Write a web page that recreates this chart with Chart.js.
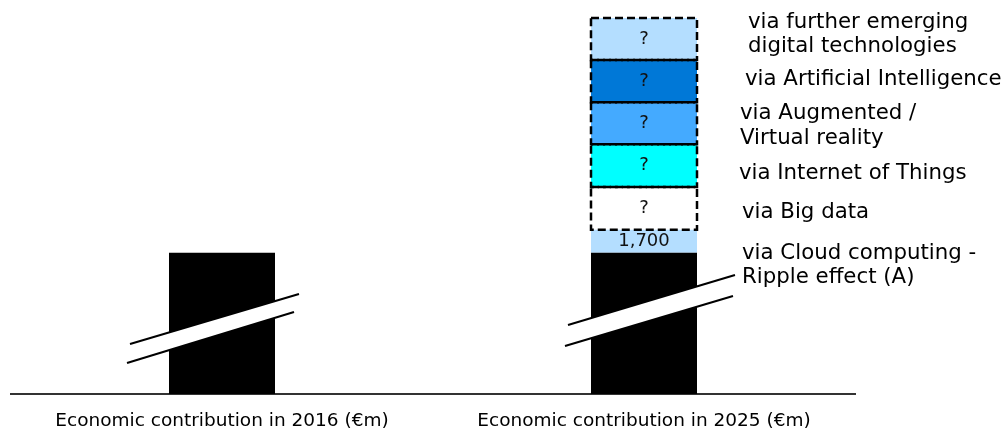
<!DOCTYPE html>
<html><head><meta charset="utf-8">
<script src="https://cdn.jsdelivr.net/npm/chart.js@4.4.0/dist/chart.umd.min.js"></script>
<style>html,body{margin:0;padding:0;background:#fff;}#wrap{width:1005px;height:430px;}</style>
</head><body><div id="wrap"><canvas id="c" width="1005" height="430"></canvas></div>
<script>
// ---- data (€m) ----
const categories = ['Economic contribution in 2016 (€m)', 'Economic contribution in 2025 (€m)'];
const seriesNames = ['Base', 'via Cloud computing - Ripple effect (A)', 'via Big data', 'via Internet of Things', 'via Augmented / Virtual reality', 'via Artificial Intelligence', 'via further emerging digital technologies'];
// base bar is drawn on a broken axis; unknown segments ("?") are drawn as equal placeholders
const baseValues = [10400, 10400];
const cloudValues = [null, 1700];
const bigDataValues = [null, 3150];
const iotValues = [null, 3150];
const arvrValues = [null, 3100];
const aiValues = [null, 3100];
const furtherValues = [null, 3100];
const segmentTexts = ['', '1,700', '?', '?', '?', '?', '?'];
const labelLines = [[], ['via Cloud computing -', 'Ripple effect (A)'], ['via Big data'], ['via Internet of Things'], ['via Augmented /', 'Virtual reality'], ['via Artificial Intelligence'], ['via further emerging', 'digital technologies']];

const colors = ['#000000', '#b4deff', '#ffffff', '#00ffff', '#44aaff', '#0078d7', '#b4deff'];
const dashed = [false, false, true, true, true, true, true];
const allValues = [baseValues, cloudValues, bigDataValues, iotValues, arvrValues, aiValues, furtherValues];
const yMax = allValues.reduce((s, arr) => s + (arr[1] || 0), 0);

// label placement tweaks (relative to bar edge / segment centre)
const labelDx = [0, 45, 45, 42, 43, 48, 51];
const labelDy = [0, 24, 4, 8, 3, -2, -4.5];
// break-mark geometry relative to bar centre / baseline
const breakMarks = [
  {up: [[-92, -50], [77, -100]], lo: [[-95, -31], [72, -82]]},
  {up: [[-76, -69], [91, -119]], lo: [[-79, -48], [89, -98]]}
];

const decorPlugin = {
  id: 'decor',
  afterDatasetsDraw(chart) {
    const ctx = chart.ctx;
    ctx.save();
    // break marks
    const baseMeta = chart.getDatasetMeta(0);
    baseMeta.data.forEach((el, i) => {
      const b = breakMarks[i];
      const cx = el.x, by = el.base;
      const P = p => [cx + p[0], by + p[1]];
      const u0 = P(b.up[0]), u1 = P(b.up[1]), l0 = P(b.lo[0]), l1 = P(b.lo[1]);
      ctx.fillStyle = '#fff';
      ctx.beginPath();
      ctx.moveTo(u0[0], u0[1]); ctx.lineTo(u1[0], u1[1]); ctx.lineTo(l1[0], l1[1]); ctx.lineTo(l0[0], l0[1]);
      ctx.closePath(); ctx.fill();
      ctx.strokeStyle = '#000'; ctx.lineWidth = 2; ctx.setLineDash([]);
      ctx.beginPath(); ctx.moveTo(u0[0], u0[1]); ctx.lineTo(u1[0], u1[1]); ctx.stroke();
      ctx.beginPath(); ctx.moveTo(l0[0], l0[1]); ctx.lineTo(l1[0], l1[1]); ctx.stroke();
    });
    // dashed borders, segment texts, side labels
    chart.data.datasets.forEach((ds, di) => {
      const meta = chart.getDatasetMeta(di);
      meta.data.forEach((el, i) => {
        if (ds.data[i] == null) return;
        const left = el.x - el.width / 2, right = el.x + el.width / 2;
        const top = Math.min(el.y, el.base), bot = Math.max(el.y, el.base);
        if (dashed[di]) {
          ctx.strokeStyle = '#000'; ctx.lineWidth = 2.5; ctx.setLineDash([8, 4]);
          ctx.strokeRect(left, top, right - left, bot - top);
          ctx.setLineDash([]);
        }
        const cy = (top + bot) / 2;
        if (segmentTexts[di]) {
          ctx.fillStyle = '#111';
          ctx.font = '18px "DejaVu Sans"';
          ctx.textAlign = 'center'; ctx.textBaseline = 'middle';
          ctx.fillText(segmentTexts[di], el.x, cy);
        }
        const lines = labelLines[di];
        if (lines.length && i === 1) {
          ctx.fillStyle = '#000';
          ctx.font = '21.3px "DejaVu Sans"';
          ctx.textAlign = 'left'; ctx.textBaseline = 'middle';
          const lh = 24.5;
          const y0 = cy + labelDy[di] - (lines.length - 1) * lh / 2;
          lines.forEach((t, k) => ctx.fillText(t, right + labelDx[di], y0 + k * lh));
        }
      });
    });
    ctx.restore();
  }
};

new Chart(document.getElementById('c'), {
  type: 'bar',
  data: {
    labels: categories,
    datasets: allValues.map((arr, k) => ({
      label: seriesNames[k],
      data: arr,
      backgroundColor: colors[k],
      borderWidth: 0,
      barPercentage: 0.2512,
      categoryPercentage: 1
    }))
  },
  options: {
    responsive: false,
    animation: false,
    devicePixelRatio: 1,
    layout: {padding: {left: 11, right: 150, top: 18, bottom: 0}},
    plugins: {legend: {display: false}, tooltip: {enabled: false}},
    scales: {
      x: {
        stacked: true,
        grid: {display: false, drawTicks: false, tickLength: 0},
        border: {display: true, color: '#333', width: 2},
        ticks: {color: '#000', padding: 16, font: {family: '"DejaVu Sans"', size: 18.5}, maxRotation: 0, autoSkip: false},
        afterFit(scale) { scale.height = 36; }
      },
      y: {stacked: true, display: false, min: 0, max: yMax}
    }
  },
  plugins: [decorPlugin]
});
</script></body></html>
